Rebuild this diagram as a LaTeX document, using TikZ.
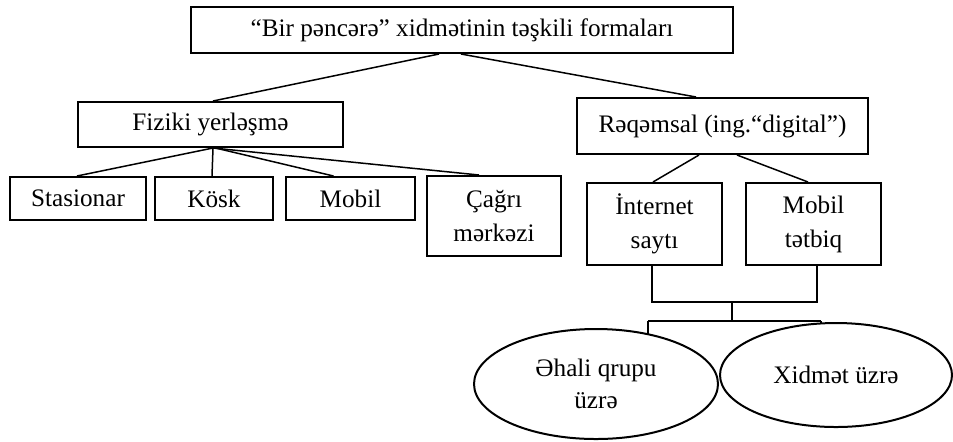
\documentclass[tikz,border=0pt]{standalone}
\usepackage{fontspec}
\setmainfont{Liberation Serif}
\usetikzlibrary{shapes.geometric,calc}
\begin{document}
\begin{tikzpicture}[x=0.5pt,y=-0.5pt,
  box/.style={draw,line width=1pt,rectangle,inner sep=0pt,align=center,
    font=\fontsize{12.6}{17}\selectfont},
  oval/.style={draw,line width=1pt,ellipse,inner sep=0pt,align=center,
    font=\fontsize{12.6}{16}\selectfont},
  conn/.style={line width=0.75pt}]
\useasboundingbox (0,0) rectangle (953,441);
\node[box,minimum width=271pt,minimum height=23pt] (top) at (462,30) {“Bir pəncərə” xidmətinin təşkili formaları};
\node[box,minimum width=132.5pt,minimum height=22.5pt] (fiz) at (210.5,124.5) {Fiziki yerləşmə};
\node[box,minimum width=145.5pt,minimum height=28pt] (raq) at (722.5,126) {Rəqəmsal (ing.“digital”)};
\node[box,minimum width=68pt,minimum height=21.5pt] (sta) at (78,198.5) {Stasionar};
\node[box,minimum width=59pt,minimum height=21.5pt] (kos) at (214,198.5) {Kösk};
\node[box,minimum width=64.5pt,minimum height=21.5pt] (mobf) at (350.5,198.5) {Mobil};
\node[box,minimum width=67pt,minimum height=40pt] (cag) at (494,216) {Çağrı\\mərkəzi};
\node[box,minimum width=67.5pt,minimum height=41pt] (int) at (654.5,224) {İnternet\\saytı};
\node[box,minimum width=67.5pt,minimum height=41pt] (mobt) at (813.5,224) {Mobil\\tətbiq};
\node[oval,minimum width=122pt,minimum height=55pt] (ahali) at (596,384) {Əhali qrupu\\üzrə};
\node[oval,minimum width=116pt,minimum height=52pt] (xid) at (836,375) {Xidmət üzrə};
% top level
\draw[conn] ($(top.south west)+(249,0)$) -- ($(fiz.north)+(2.5,0)$);
\draw[conn] ($(top.south west)+(271,0)$) -- ($(raq.north west)+(120,0)$);
% physical
\coordinate (fj) at ($(fiz.south)+(2.5,0)$);
\draw[conn] (fj) -- ($(sta.north)+(-1,0)$);
\draw[conn] (fj) -- ($(kos.north)+(-2,0)$);
\draw[conn] ($(fiz.south)+(5,0)$) -- ($(mobf.north)+(-17,0)$);
\draw[conn] (fj) -- ($(cag.north west)+(53,0)$);
% digital
\draw[conn] ($(raq.south west)+(123,0)$) -- ($(int.north)+(-1.5,0)$);
\draw[conn] ($(raq.south west)+(161,0)$) -- ($(mobt.north)+(-5.5,0)$);
% bracket
\coordinate (jl) at (652,302);
\coordinate (jr) at (817,302);
\coordinate (jm) at (732,302);
\coordinate (km) at (732,321);
\coordinate (kl) at (648,321);
\coordinate (kr) at (821,321);
\draw[conn] (int.south -| jl) -- (jl) -- (jr) -- (mobt.south -| jr);
\draw[conn] (jm) -- (km);
\draw[conn] (kl) -- (kr);
\draw[conn] (kl) -- ++(0,13);
\draw[conn] (kr) -- ++(0,3);
\end{tikzpicture}
\end{document}
